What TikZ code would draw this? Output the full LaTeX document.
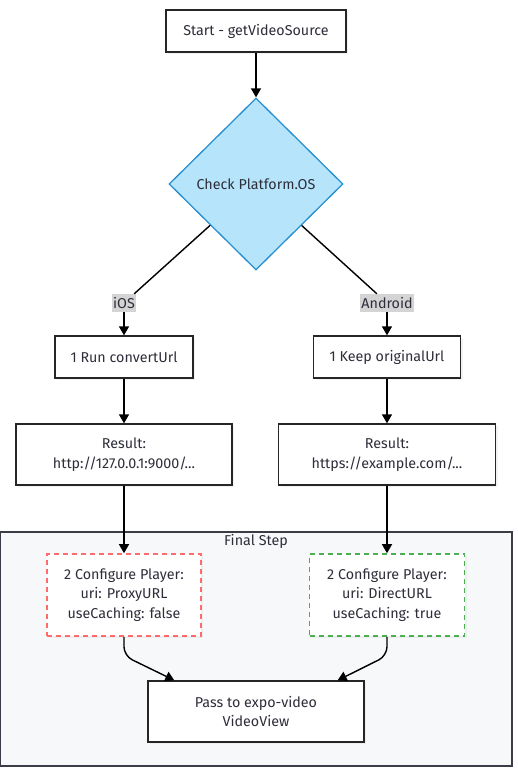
\documentclass[tikz,border=0pt]{standalone}
\usepackage{fontspec}
\setmainfont{Fira Sans}
\usepackage{tikz}
\usetikzlibrary{arrows.meta}
\usetikzlibrary{shapes.geometric}
\usetikzlibrary{shadows}
\definecolor{txtgray}{HTML}{2E2E3A}
\definecolor{diafill}{HTML}{B5E4FB}
\definecolor{diadraw}{HTML}{2A8FD0}
\definecolor{clfill}{HTML}{F7F8FA}
\definecolor{cldraw}{HTML}{3C3C48}
\definecolor{redline}{HTML}{FF6B6B}
\definecolor{greenline}{HTML}{4CAF50}
\definecolor{lblfill}{HTML}{D4D4D4}
\newcommand{\flownode}[4]{\node(#1)[#2] at (#3) {#4}}

\begin{document}
\begin{tikzpicture}[
        x=1pt, y=-1pt,
        every node/.style={font=\fontsize{14.3}{19.5}\selectfont, text=txtgray},
        box/.style={rectangle, draw=black!85, fill=white, line width=1.3pt,
                    align=center, inner sep=0pt,
                    drop shadow={shadow xshift=2pt, shadow yshift=-2pt, fill=black!10}},
        decide/.style={diamond, draw=diadraw, fill=diafill, line width=1.3pt,
                       minimum width=174pt, minimum height=172pt, inner sep=0pt},
        branch/.style={rectangle, fill=lblfill, inner sep=1.5pt, minimum height=18pt},
        cfgbox/.style={box, dashed, dash pattern=on 5pt off 4pt, line width=1.6pt},
        arrow/.style={-{Triangle[length=9pt, width=10pt]}, line width=1.4pt, black},
        link/.style={line width=1.4pt, black}
      ]
      \useasboundingbox (0,0) rectangle (518,768);

      % cluster
      \draw[draw=cldraw, fill=clfill, line width=1.3pt] (0.7,532) rectangle (512,766);
      \node(cltitle) at (256,541) {Final Step};

      % nodes
      \flownode{start}{box, minimum width=180pt, minimum height=42pt}{256,31}{Start - getVideoSource};
      \flownode{check}{decide}{256,184}{Check Platform.OS};
      \flownode{ios}{branch}{124,303}{iOS};
      \flownode{android}{branch}{387,303}{Android};
      \flownode{run}{box, minimum width=138pt, minimum height=42pt}{124,357}{1 Run convertUrl};
      \flownode{keep}{box, minimum width=147pt, minimum height=42pt}{387,357}{1 Keep originalUrl};
      \flownode{resios}{box, minimum width=216pt, minimum height=61pt}{124,454.5}{Result:\\http://127.0.0.1:9000/...};
      \flownode{resand}{box, minimum width=217pt, minimum height=61pt}{387,454.5}{Result:\\https://example.com/...};
      \flownode{cfgios}{cfgbox, draw=redline, minimum width=154pt, minimum height=82pt}{124,595}{2 Configure Player:\\uri: ProxyURL\\useCaching: false};
      \flownode{cfgand}{cfgbox, draw=greenline, minimum width=155pt, minimum height=82pt}{387,595}{2 Configure Player:\\uri: DirectURL\\useCaching: true};
      \flownode{pass}{box, minimum width=216pt, minimum height=61pt}{256,711.5}{Pass to expo-video\\VideoView};

      % connectors
      \draw[arrow] (start) -- (check);
      \draw[link] (check) -- (ios);
      \draw[link] (check) -- (android);
      \draw[arrow] (ios) -- (run);
      \draw[arrow] (android) -- (keep);
      \draw[arrow] (run) -- (resios);
      \draw[arrow] (keep) -- (resand);
      \draw[arrow] (resios) -- (cfgios);
      \draw[arrow] (resand) -- (cfgand);
      \draw[arrow, rounded corners=9pt] (cfgios.south) -- ++(0,19) -- ([xshift=27pt]pass.north west);
      \draw[arrow, rounded corners=9pt] (cfgand.south) -- ++(0,19) -- ([xshift=-27pt]pass.north east);

    \end{tikzpicture}
\end{document}
